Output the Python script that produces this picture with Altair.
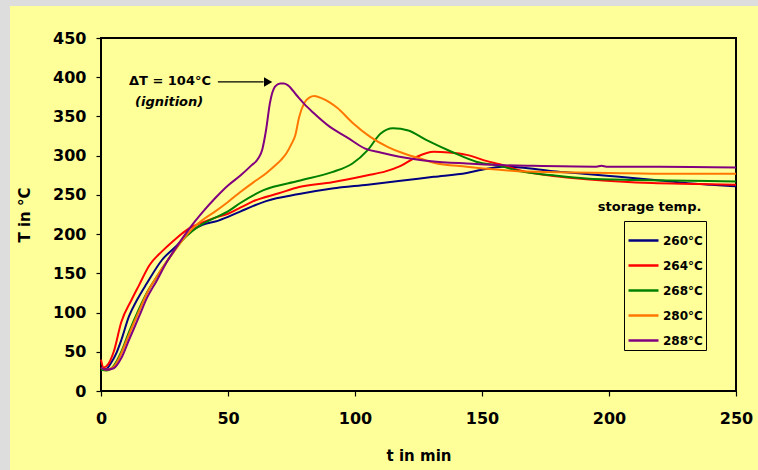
import altair as alt
import pandas as pd

# Temperature histories (t in min, T in °C) for five storage temperatures
t_260 = [0, 2, 4, 6, 8, 11, 14, 18, 24, 30, 35, 40, 45, 50, 55, 60, 65, 78, 91, 105, 118, 131, 144, 150, 158, 165, 178, 190, 204, 218, 231, 240, 250]
T_260 = [28, 28, 36, 48, 65, 95, 115, 137, 167, 186, 203, 212, 216, 222, 229, 236, 242, 251, 258, 263, 268, 273, 278, 282, 286, 285, 280, 277, 273, 269, 265, 263, 261]

t_264 = [0, 1, 3, 5, 8, 12, 15, 19, 24, 28, 35, 40, 45, 50, 55, 60, 70, 78, 91, 105, 112, 118, 124, 131, 137, 144, 152, 157, 165, 178, 191, 204, 217, 235, 250]
T_264 = [40, 30, 35, 50, 88, 116, 135, 160, 178, 190, 208, 215, 221, 226, 234, 242, 252, 260, 266, 275, 280, 287, 298, 305, 304, 301, 293, 289, 281, 274, 270, 267, 265, 264, 263]

t_268 = [0, 2, 5, 8, 11, 15, 18, 22, 27, 32, 36, 40, 45, 50, 55, 64, 78, 91, 99, 105, 110, 115, 121, 128, 138, 148, 157, 165, 178, 191, 210, 231, 250]
T_268 = [27, 26, 32, 50, 75, 105, 125, 146, 170, 192, 204, 213, 221, 229, 240, 256, 268, 279, 290, 307, 328, 335, 332, 320, 305, 292, 287, 280, 275, 271, 269, 268, 267]

t_280 = [0, 2, 5, 8, 11, 15, 18, 22, 27, 32, 36, 40, 45, 50, 55, 60, 64, 68, 71, 73, 75, 76.5, 78, 80, 82, 84, 87, 90, 93, 99, 106, 113, 119, 126, 131, 144, 157, 165, 180, 200, 225, 250]
T_280 = [30, 27, 31, 48, 72, 102, 124, 146, 170, 192, 207, 218, 229, 241, 254, 266, 275, 286, 295, 303, 315, 326, 349, 367, 374, 376, 373, 368, 361, 342, 324, 311, 303, 296, 291, 286, 282, 280, 279, 278, 277, 277]

t_288 = [0, 2, 5, 8, 11, 15, 18, 22, 26, 30, 35, 40, 45, 50, 55, 59, 62, 63.5, 65, 66.5, 68.5, 70.5, 72, 73.5, 77, 80, 83.5, 90, 97, 104, 110, 117, 130, 144, 157, 170, 195, 197, 199, 220, 250]
T_288 = [30, 27, 29, 42, 65, 95, 118, 141, 165, 185, 208, 228, 246, 262, 275, 287, 297, 308, 333, 367, 388, 392, 392, 390, 377, 366, 355, 337, 323, 309, 304, 299, 293, 290, 288, 287, 286, 287, 286, 286, 285]

series_labels = ["260°C", "264°C", "268°C", "280°C", "288°C"]
series_colors = ["#000080", "#FF0000", "#008000", "#FF7700", "#800080"]
series_t = [t_260, t_264, t_268, t_280, t_288]
series_T = [T_260, T_264, T_268, T_280, T_288]

x_ticks = [0, 50, 100, 150, 200, 250]
y_ticks = [0, 50, 100, 150, 200, 250, 300, 350, 400, 450]

# Annotation of the ignition peak
note_text = ["ΔT = 104°C", "(ignition)"]
note_t = [11, 13.4]
note_T = [395, 368]
arrow_t = [46, 64]
arrow_T = [394, 394]
arrowhead_t = [65.8]
legend_title = "storage temp."
legend_title_t = [216]
legend_title_T = [235]

frames = [pd.DataFrame({"t": ts, "T": Ts, "storage": lab})
          for lab, ts, Ts in zip(series_labels, series_t, series_T)]
df = pd.concat(frames, ignore_index=True)

W, H = 635, 353
FONT = "DejaVu Sans"
BG = "#FFFF99"

x_scale = alt.Scale(domain=[0, 250], nice=False, zero=False)
y_scale = alt.Scale(domain=[0, 450], nice=False)
x_axis = alt.Axis(values=x_ticks, title="t in min", labelPadding=14,
                  titlePadding=22, labelFlush=False, labelOverlap=False)
y_axis = alt.Axis(values=y_ticks, title="T in °C", labelPadding=10,
                  titlePadding=20, labelOverlap=False, labelFlush=False)
# Shared position encodings so every layer agrees on the axes
X = alt.X("t:Q", scale=x_scale, axis=x_axis)
Y = alt.Y("T:Q", scale=y_scale, axis=y_axis)

# Grey frame strips along the left and top edge of the canvas
one = pd.DataFrame({"k": [0]})
strip_left = alt.Chart(one).mark_rect(color="#DDDDDD").encode(
    x=alt.value(-101), x2=alt.value(-91), y=alt.value(-38), y2=alt.value(H + 79))
strip_top = alt.Chart(one).mark_rect(color="#DDDDDD").encode(
    x=alt.value(-101), x2=alt.value(W + 22), y=alt.value(-38), y2=alt.value(-32))

lines = alt.Chart(df).mark_line(strokeWidth=2, interpolate="monotone").encode(
    x=X, y=Y,
    color=alt.Color(
        "storage:N",
        scale=alt.Scale(domain=series_labels, range=series_colors),
        legend=alt.Legend(
            title=None, orient="none", legendX=523, legendY=183,
            symbolType="stroke", symbolSize=900, symbolStrokeWidth=2.5,
            labelFont=FONT, labelFontSize=12, labelFontWeight="bold", labelColor="black",
            labelOffset=3, rowPadding=2, padding=3,
            strokeColor="black", fillColor=BG,
        ),
    ),
)

note_main = alt.Chart(pd.DataFrame({"t": note_t[:1], "T": note_T[:1], "txt": note_text[:1]})).mark_text(
    align="left", baseline="middle", font=FONT, fontSize=13, fontWeight="bold", color="black"
).encode(x=X, y=Y, text="txt:N")
note_sub = alt.Chart(pd.DataFrame({"t": note_t[1:], "T": note_T[1:], "txt": note_text[1:]})).mark_text(
    align="left", baseline="middle", font=FONT, fontSize=13, fontWeight="bold",
    fontStyle="italic", color="black"
).encode(x=X, y=Y, text="txt:N")

arrow_line = alt.Chart(pd.DataFrame({"t": arrow_t, "T": arrow_T})).mark_line(
    color="black", strokeWidth=1.2
).encode(x=X, y=Y)
arrow_head = alt.Chart(pd.DataFrame({"t": arrowhead_t, "T": [arrow_T[0]]})).mark_point(
    shape="triangle-right", filled=True, color="black", size=90, opacity=1
).encode(x=X, y=Y)

legend_head = alt.Chart(pd.DataFrame({"t": legend_title_t, "T": legend_title_T, "txt": [legend_title]})).mark_text(
    align="center", baseline="middle", font=FONT, fontSize=13, fontWeight="bold", color="black"
).encode(x=X, y=Y, text="txt:N")

chart = alt.layer(
    strip_left, strip_top, lines, arrow_line, arrow_head, note_main, note_sub, legend_head
).properties(
    width=W, height=H,
    background=BG,
    autosize=alt.AutoSizeParams(type="none"),
    padding={"left": 101, "top": 38, "right": 22, "bottom": 79},
).configure_view(
    stroke="black", strokeWidth=2
).configure_axis(
    labelFont=FONT, labelFontSize=16, labelFontWeight="bold", labelColor="black",
    titleFont=FONT, titleFontSize=15, titleFontWeight="bold", titleColor="black",
    tickColor="black", tickSize=5, tickWidth=1.2, domain=False, grid=False, zindex=1,
)

chart.save("out.html", embed_options={"renderer": "svg", "actions": False})
